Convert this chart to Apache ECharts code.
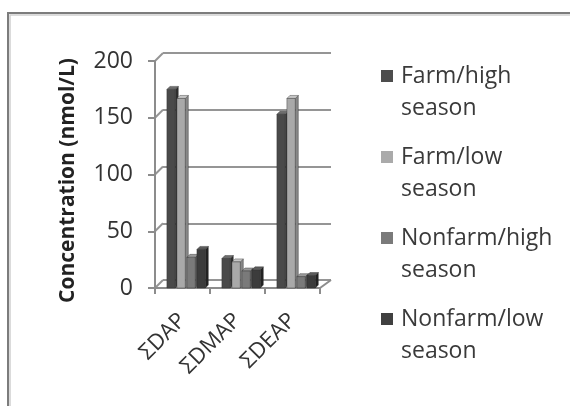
<!DOCTYPE html>
<html>
<head>
<meta charset="utf-8">
<script src="https://cdn.jsdelivr.net/npm/echarts@6/dist/echarts.min.js"></script>
<style>
  html, body { margin: 0; padding: 0; background: #fff; }
  #chart { width: 570px; height: 406px; }
</style>
</head>
<body>
<div id="chart"></div>
<script>
// Urinary dialkyl phosphate sums by residence and season
const categories = ['ΣDAP', 'ΣDMAP', 'ΣDEAP'];
const seriesNames = ['Farm/high season', 'Farm/low season', 'Nonfarm/high season', 'Nonfarm/low season'];
const farmHigh = [175, 26, 153];
const farmLow = [167, 23, 167];
const nonfarmHigh = [27, 15, 10];
const nonfarmLow = [34, 16, 11];
const yTicks = [0, 50, 100, 150, 200];

const seriesValues = [farmHigh, farmLow, nonfarmHigh, nonfarmLow];

// front / top / side shades for each column
const shades = [
  { front: '#4a4a4a', top: '#6e6e6e', side: '#2e2e2e', legend: '#4d4d4d' },
  { front: '#a9a9a9', top: '#c6c6c6', side: '#878787', legend: '#aaaaaa' },
  { front: '#7a7a7a', top: '#9a9a9a', side: '#5a5a5a', legend: '#7a7a7a' },
  { front: '#3c3c3c', top: '#5c5c5c', side: '#222222', legend: '#404040' }
];

const FONT = '"Open Sans", "Noto Sans", sans-serif';
const DEPTH = 3;

function makeRenderer(idx) {
  const c = shades[idx];
  return function (params, api) {
    const cat = api.value(0);
    const base = api.coord([cat, 0]);
    const top = api.coord([cat, api.value(1)]);
    const band = api.size([1, 0])[0];
    const pitch = band * 0.182;
    const w = pitch * 0.84;
    const x = base[0] - 2 * pitch + idx * pitch + band * 0.08;
    const yb = base[1];
    const yt = top[1];
    return {
      type: 'group',
      children: [
        {
          type: 'polygon',
          shape: { points: [[x + w, yt], [x + w + DEPTH, yt - DEPTH], [x + w + DEPTH, yb - DEPTH], [x + w, yb]] },
          style: { fill: c.side, stroke: '#2a2a2a', lineWidth: 0.4 }
        },
        {
          type: 'polygon',
          shape: { points: [[x, yt], [x + w, yt], [x + w + DEPTH, yt - DEPTH], [x + DEPTH, yt - DEPTH]] },
          style: { fill: c.top, stroke: '#2a2a2a', lineWidth: 0.4 }
        },
        {
          type: 'rect',
          shape: { x: x, y: yt, width: w, height: yb - yt },
          style: { fill: c.front, stroke: '#2a2a2a', lineWidth: 0.4 }
        }
      ]
    };
  };
}

const chart = echarts.init(document.getElementById('chart'), null, { renderer: 'canvas' });

const option = {
  backgroundColor: '#ffffff',
  animation: false,
  legend: {
    orient: 'vertical',
    left: 381,
    top: 28,
    padding: 0,
    itemWidth: 12,
    itemHeight: 12,
    itemGap: -15,
    icon: 'rect',
    data: seriesNames,
    // a leading blank line keeps the swatch level with the first text line
    formatter: name => '\n' + name.replace(' ', '\n'),
    textStyle: {
      fontFamily: FONT,
      fontSize: 23,
      lineHeight: 32,
      color: '#3a3a3a',
      padding: [0, 0, 0, 3]
    }
  },
  grid: [
    { left: 155, top: 61, width: 165, height: 227 },   // front plane
    { left: 163, top: 53, width: 168, height: 227 }    // back wall
  ],
  xAxis: [
    {
      type: 'category',
      gridIndex: 0,
      data: categories,
      axisLine: { lineStyle: { color: '#8c8c8c', width: 2 } },
      axisTick: { show: true, length: 6, lineStyle: { color: '#8c8c8c', width: 2 } },
      axisLabel: {
        rotate: 45,
        margin: 29,
        fontFamily: FONT,
        fontSize: 22,
        color: '#333333'
      },
      z: 1
    },
    {
      type: 'category',
      gridIndex: 1,
      data: categories,
      show: false
    }
  ],
  yAxis: [
    {
      type: 'value',
      gridIndex: 0,
      min: 0,
      max: 200,
      interval: 50,
      name: 'Concentration (nmol/L)',
      nameLocation: 'middle',
      nameRotate: 90,
      nameGap: 76,
      nameTextStyle: {
        fontFamily: FONT, fontSize: 21, fontWeight: 'bold', color: '#222222',
        padding: [0, 12, 0, 0]
      },
      axisLine: { show: true, lineStyle: { color: '#8c8c8c', width: 2 } },
      axisTick: { show: true, length: 7, lineStyle: { color: '#8c8c8c', width: 2 } },
      axisLabel: {
        margin: 22,
        fontFamily: FONT,
        fontSize: 23,
        color: '#333333',
        formatter: v => (yTicks.indexOf(v) >= 0 ? String(v) : '')
      },
      splitLine: { show: false }
    },
    {
      type: 'value',
      gridIndex: 1,
      min: 0,
      max: 200,
      interval: 50,
      axisLine: { show: false },
      axisTick: { show: false },
      axisLabel: { show: false },
      splitLine: { show: true, lineStyle: { color: '#959595', width: 2 } }
    }
  ],
  series: seriesValues.map((vals, i) => ({
    name: seriesNames[i],
    type: 'custom',
    xAxisIndex: 0,
    yAxisIndex: 0,
    renderItem: makeRenderer(i),
    itemStyle: { color: shades[i].legend },
    encode: { x: 0, y: 1 },
    data: vals.map((v, k) => [k, v]),
    z: 3 + i
  }))
};

chart.setOption(option);

// Side-wall and floor edges joining the front axis to the back wall,
// plus the outer frame of the chart area.
const gfx = [];
yTicks.forEach(v => {
  const yf = chart.convertToPixel({ yAxisIndex: 0 }, v);
  const yb = chart.convertToPixel({ yAxisIndex: 1 }, v);
  gfx.push({
    type: 'line',
    shape: { x1: 155, y1: yf, x2: 163, y2: yb },
    style: { stroke: '#959595', lineWidth: 2 },
    z: 0
  });
});
const y0f = chart.convertToPixel({ yAxisIndex: 0 }, 0);
const y0b = chart.convertToPixel({ yAxisIndex: 1 }, 0);
gfx.push({
  type: 'line',
  shape: { x1: 320, y1: y0f, x2: 331, y2: y0b },
  style: { stroke: '#8c8c8c', lineWidth: 2 },
  z: 0
});
gfx.push({
  type: 'rect',
  shape: { x: 8, y: 13, width: 620, height: 460 },
  style: { fill: 'none', stroke: '#7c7c7c', lineWidth: 2 },
  z: 0
});
gfx.push({
  type: 'rect',
  shape: { x: 10, y: 15, width: 620, height: 460 },
  style: { fill: 'none', stroke: '#cfcfcf', lineWidth: 1.5 },
  z: 0
});
chart.setOption({ graphic: gfx });
</script>
</body>
</html>
